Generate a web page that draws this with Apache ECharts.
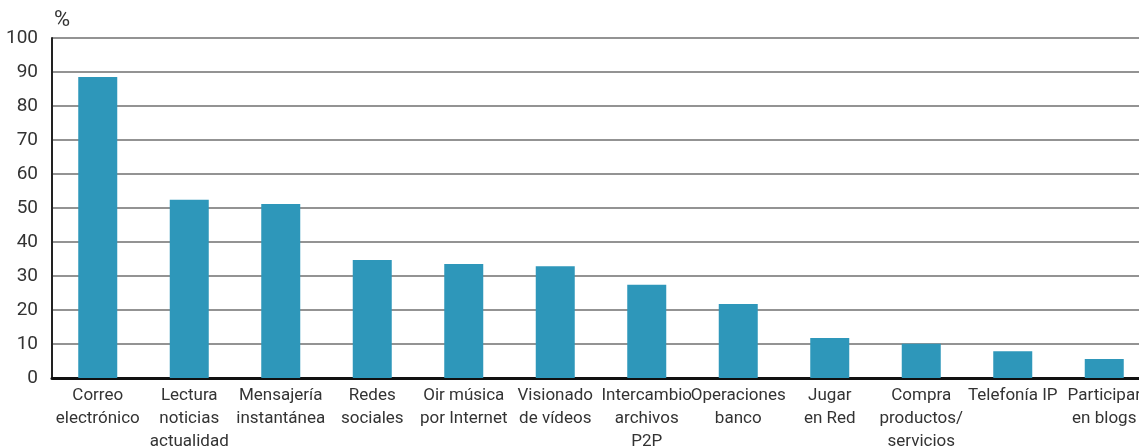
<!DOCTYPE html>
<html>
<head>
<meta charset="utf-8">
<script src="https://cdn.jsdelivr.net/npm/echarts@6/dist/echarts.min.js"></script>
<style>html,body{margin:0;padding:0;background:#fff}#c{width:1139px;height:448px}</style>
</head>
<body>
<div id="c"></div>
<script>
var categories = ["Correo\nelectrónico", "Lectura\nnoticias\nactualidad", "Mensajería\ninstantánea", "Redes\nsociales", "Oir música\npor Internet", "Visionado\nde vídeos", "Intercambio\narchivos\nP2P", "Operaciones\nbanco", "Jugar\nen Red", "Compra\nproductos/\nservicios", "Telefonía IP", "Participar\nen blogs"];
var values = [88.5, 52.4, 51.2, 34.7, 33.5, 32.9, 27.4, 21.8, 11.8, 10.1, 7.9, 5.6];
var yUnit = "%";

var FONT = 'Roboto, "DejaVu Sans Condensed", sans-serif';
var chart = echarts.init(document.getElementById('c'), null, {renderer: 'canvas'});
chart.setOption({
  animation: false,
  backgroundColor: '#fff',
  grid: {left: 52, right: -11, top: 38, bottom: 70, containLabel: false, outerBoundsMode: 'none'},
  xAxis: {
    type: 'category',
    data: categories,
    axisTick: {show: false},
    axisLine: {lineStyle: {color: '#111', width: 3}},
    axisLabel: {interval: 0, fontFamily: FONT, fontSize: 17, lineHeight: 23, color: '#333', margin: 6}
  },
  yAxis: {
    type: 'value', min: 0, max: 100, interval: 10,
    name: yUnit,
    nameLocation: 'end',
    nameGap: 7,
    nameTextStyle: {fontFamily: FONT, fontSize: 22, color: '#333', align: 'left', padding: [0, 0, 0, 2]},
    axisLine: {show: true, lineStyle: {color: '#222', width: 2}},
    axisTick: {show: false},
    axisLabel: {fontFamily: FONT, fontSize: 19, color: '#333', margin: 14},
    splitLine: {lineStyle: {color: '#6f6f6f', width: 1.5}}
  },
  series: [{
    type: 'bar',
    data: values,
    barWidth: 39,
    itemStyle: {color: '#2e97ba'}
  }]
});
</script>
</body>
</html>
